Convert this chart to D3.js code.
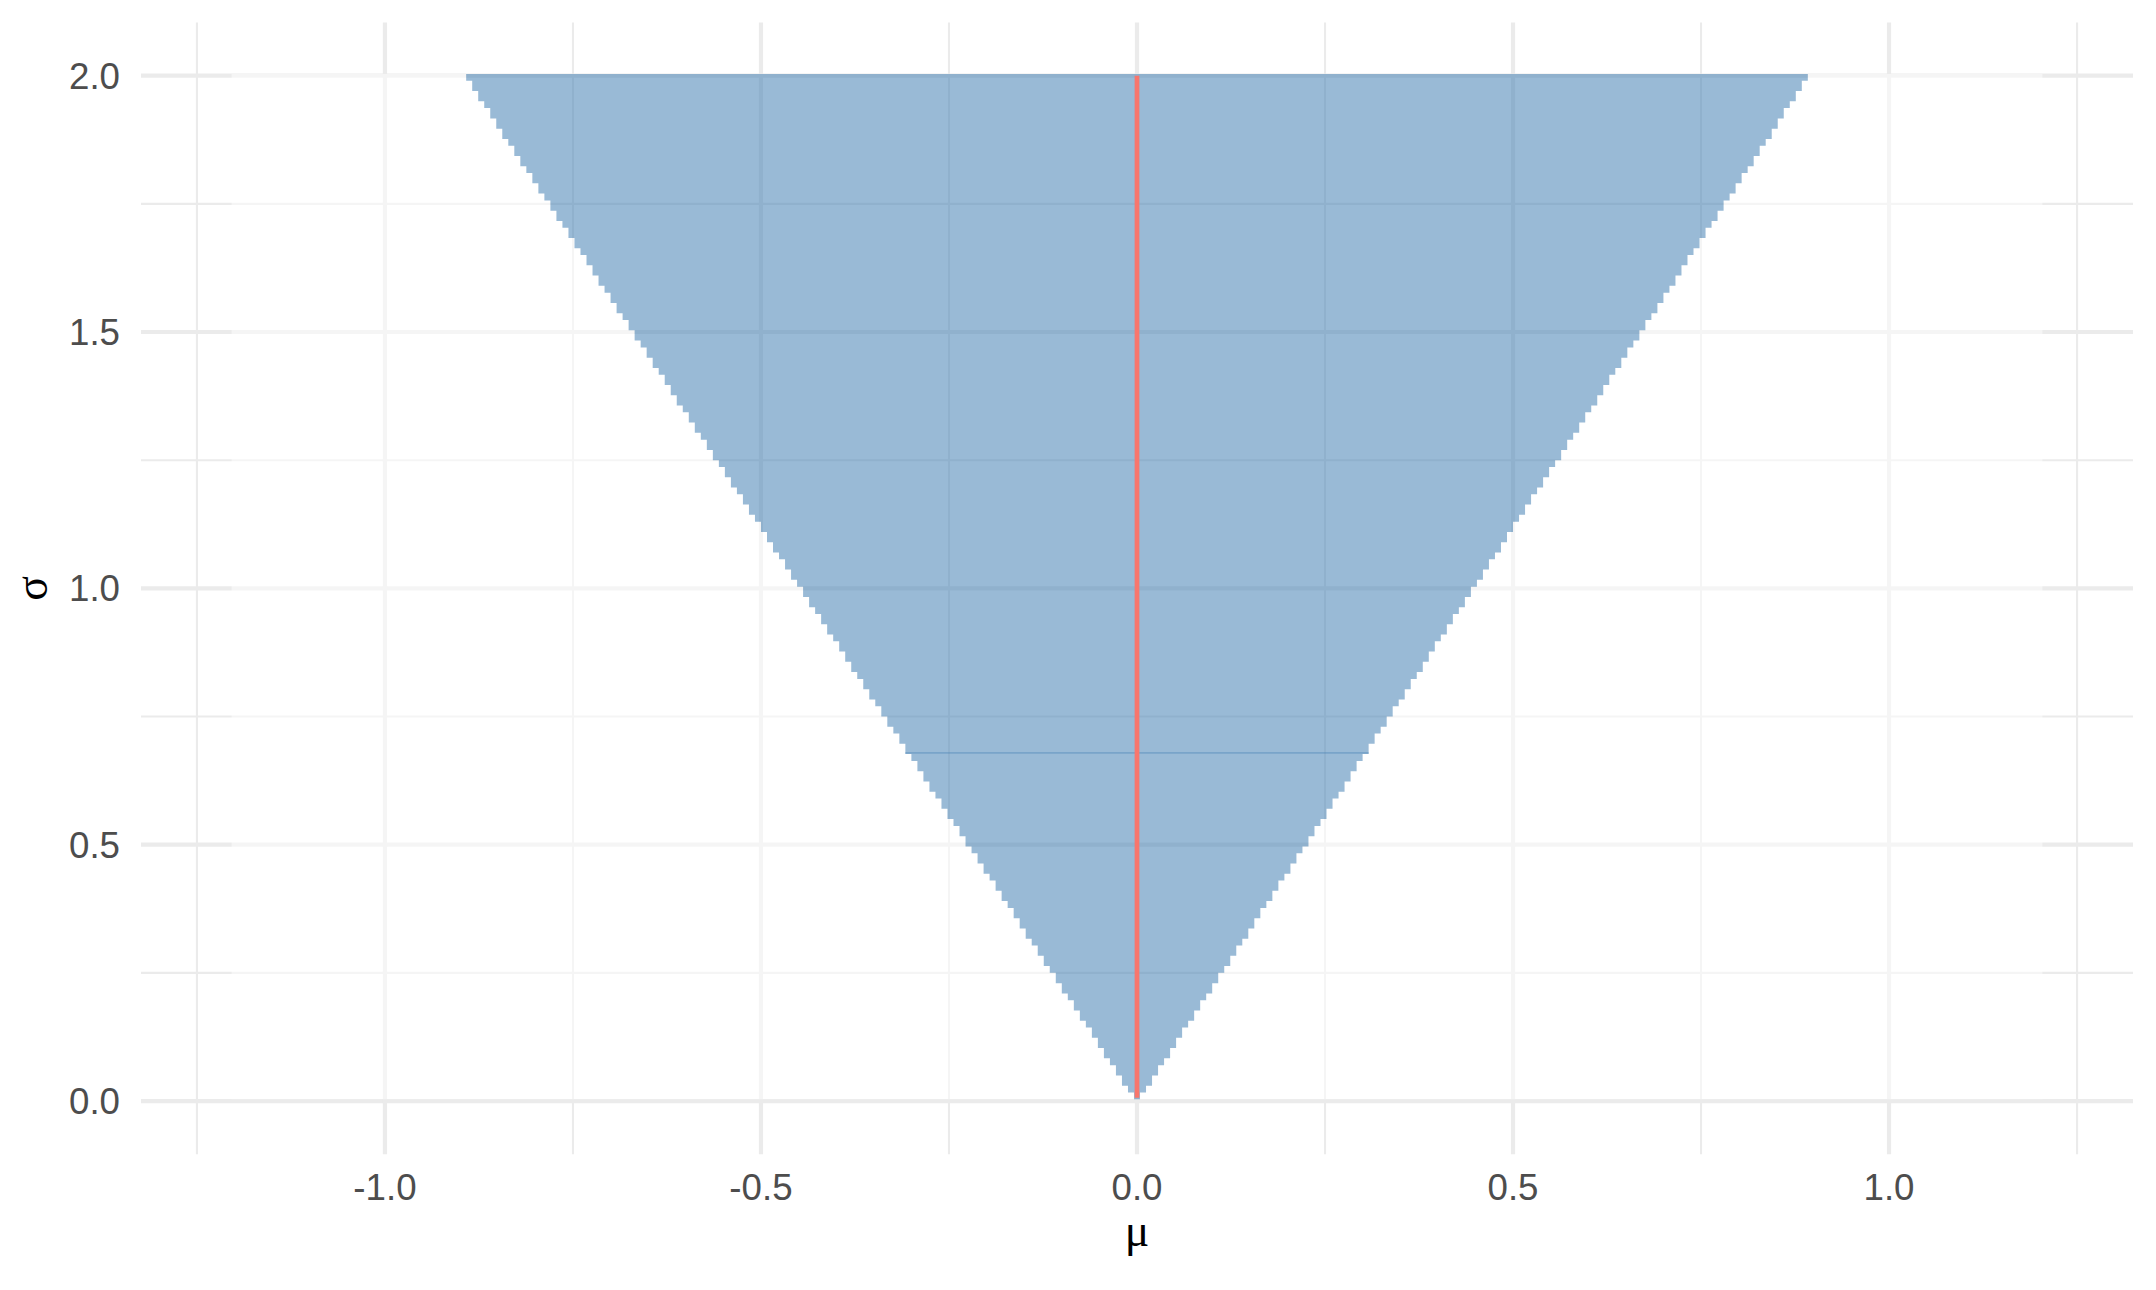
<!DOCTYPE html>
<html><head><meta charset="utf-8">
<script src="https://cdn.jsdelivr.net/npm/d3@7"></script>
<style>html,body{margin:0;padding:0;background:#fff;} svg{display:block}</style>
</head><body>
<script>
// ---- data ----
const xTicks = [-1.0, -0.5, 0.0, 0.5, 1.0];
const xTickLabels = ["-1.0", "-0.5", "0.0", "0.5", "1.0"];
const xMinor = [-1.25, -0.75, -0.25, 0.25, 0.75, 1.25];
const yTicks = [0.0, 0.5, 1.0, 1.5, 2.0];
const yTickLabels = ["0.0", "0.5", "1.0", "1.5", "2.0"];
const yMinor = [0.25, 0.75, 1.25, 1.75];
const muRange = [-1.2, 1.2];        // tile centres, outermost
const muStep = 0.008;               // tile width
const sigmaRange = [2 / 300, 2];    // tile centres, lowest and highest row
const sigmaStep = 2 / 300;          // tile height
// row index (1 = lowest row) at which the filled region widens by one tile on each side
const stepStartRow = [3,5,8,11,13,16,19,22,24,27,30,32,35,38,40,43,46,48,51,54,
  57,59,62,65,67,70,73,75,78,81,83,86,89,91,94,97,100,102,105,108,
  110,113,116,118,121,124,126,129,132,135,137,140,143,145,148,151,153,156,159,161,
  164,167,170,172,175,178,180,183,186,188,191,194,196,199,202,204,207,210,213,215,
  218,221,223,226,229,231,234,237,239,242,245,248,250,253,256,258,261,264,266,269,
  272,274,277,280,282,285,288,291,293,296,299];
const overlapSigma = 0.679;
const zeroLine = [{mu: 0, sigma: 2 / 300}, {mu: 0, sigma: 2}];

// ---- layout ----
const W = 2156, H = 1290;
const x = d3.scaleLinear().domain([-1.3244, 1.3244]).range([141, 2133]);
const y = d3.scaleLinear().domain([-0.10367, 2.10367]).range([1154.2, 22.5]);

const svg = d3.select("body").append("svg").attr("width", W).attr("height", H);
svg.append("rect").attr("width", W).attr("height", H).attr("fill", "#fff");

const [px0, px1] = x.range();
const [py0, py1] = y.range();
const grid = svg.append("g");
grid.selectAll(".hmin").data(yMinor).join("line")
  .attr("x1", px0).attr("x2", px1).attr("y1", d => y(d)).attr("y2", d => y(d))
  .attr("stroke", "#EBEBEB").attr("stroke-width", 2.1);
grid.selectAll(".vmin").data(xMinor).join("line")
  .attr("y1", py0).attr("y2", py1).attr("x1", d => x(d)).attr("x2", d => x(d))
  .attr("stroke", "#EBEBEB").attr("stroke-width", 2.1);
grid.selectAll(".hmaj").data(yTicks).join("line")
  .attr("x1", px0).attr("x2", px1).attr("y1", d => y(d)).attr("y2", d => y(d))
  .attr("stroke", "#EBEBEB").attr("stroke-width", 4.2);
grid.selectAll(".vmaj").data(xTicks).join("line")
  .attr("y1", py0).attr("y2", py1).attr("x1", d => x(d)).attr("x2", d => x(d))
  .attr("stroke", "#EBEBEB").attr("stroke-width", 4.2);

// rows of tiles
const nRows = Math.round((sigmaRange[1] - sigmaRange[0]) / sigmaStep) + 1;
const rows = d3.range(1, nRows + 1).map(i => {
  const k = stepStartRow.filter(r => r <= i).length;
  return {sigma: sigmaRange[0] + (i - 1) * sigmaStep, half: k * muStep + muStep / 2};
});
const hs = sigmaStep / 2;

// staircase outline of filled region
const pts = [];
rows.forEach(r => { pts.push([x(r.half), y(r.sigma - hs)]); pts.push([x(r.half), y(r.sigma + hs)]); });
for (let j = rows.length - 1; j >= 0; j--) {
  const r = rows[j];
  pts.push([x(-r.half), y(r.sigma + hs)]); pts.push([x(-r.half), y(r.sigma - hs)]);
}
const stair = "M" + pts.map(p => p[0].toFixed(2) + "," + p[1].toFixed(2)).join("L") + "Z";

// white translucent tiles outside the region
const gx0 = x(muRange[0] - muStep / 2), gx1 = x(muRange[1] + muStep / 2);
const gy0 = y(sigmaRange[0] - hs), gy1 = y(sigmaRange[1] + hs);
const outer = `M${gx0},${gy0}L${gx1},${gy0}L${gx1},${gy1}L${gx0},${gy1}Z`;
svg.append("path").attr("d", outer + stair).attr("fill-rule", "evenodd")
  .attr("fill", "#fff").attr("fill-opacity", 0.5);

// filled region
svg.append("path").attr("d", stair).attr("fill", "#4682B4").attr("fill-opacity", 0.55);

// overlapping row seam
const oRow = rows.find(r => Math.abs(r.sigma - overlapSigma) <= hs) || rows[0];
svg.append("rect")
  .attr("x", x(-oRow.half)).attr("width", x(oRow.half) - x(-oRow.half))
  .attr("y", y(overlapSigma) - 0.6).attr("height", 1.2)
  .attr("fill", "#4682B4").attr("fill-opacity", 0.55);

// zero line
svg.append("path")
  .attr("d", d3.line().x(d => x(d.mu)).y(d => y(d.sigma))(zeroLine))
  .attr("stroke", "#F8766D").attr("stroke-width", 4.7).attr("fill", "none");

// axis tick labels
const font = "'Liberation Sans', Arial, Helvetica, sans-serif";
svg.selectAll(".yl").data(yTicks).join("text")
  .attr("x", 120).attr("y", d => y(d) + 13).attr("text-anchor", "end")
  .attr("font-family", font).attr("font-size", 36.7).attr("fill", "#4D4D4D")
  .text((d, i) => yTickLabels[i]);
svg.selectAll(".xl").data(xTicks).join("text")
  .attr("x", d => x(d)).attr("y", 1200).attr("text-anchor", "middle")
  .attr("font-family", font).attr("font-size", 36.7).attr("fill", "#4D4D4D")
  .text((d, i) => xTickLabels[i]);

// axis titles
const tfont = "'Liberation Serif', 'DejaVu Serif', serif";
svg.append("text").attr("x", x(0)).attr("y", 1245.5).attr("text-anchor", "middle")
  .attr("font-family", tfont).attr("font-size", 45.8).attr("fill", "#000").text("μ");
svg.append("text").attr("transform", `translate(46.5,${y(1.0)}) rotate(-90)`)
  .attr("text-anchor", "middle")
  .attr("font-family", tfont).attr("font-size", 45.8).attr("fill", "#000").text("σ");
</script>
</body></html>
